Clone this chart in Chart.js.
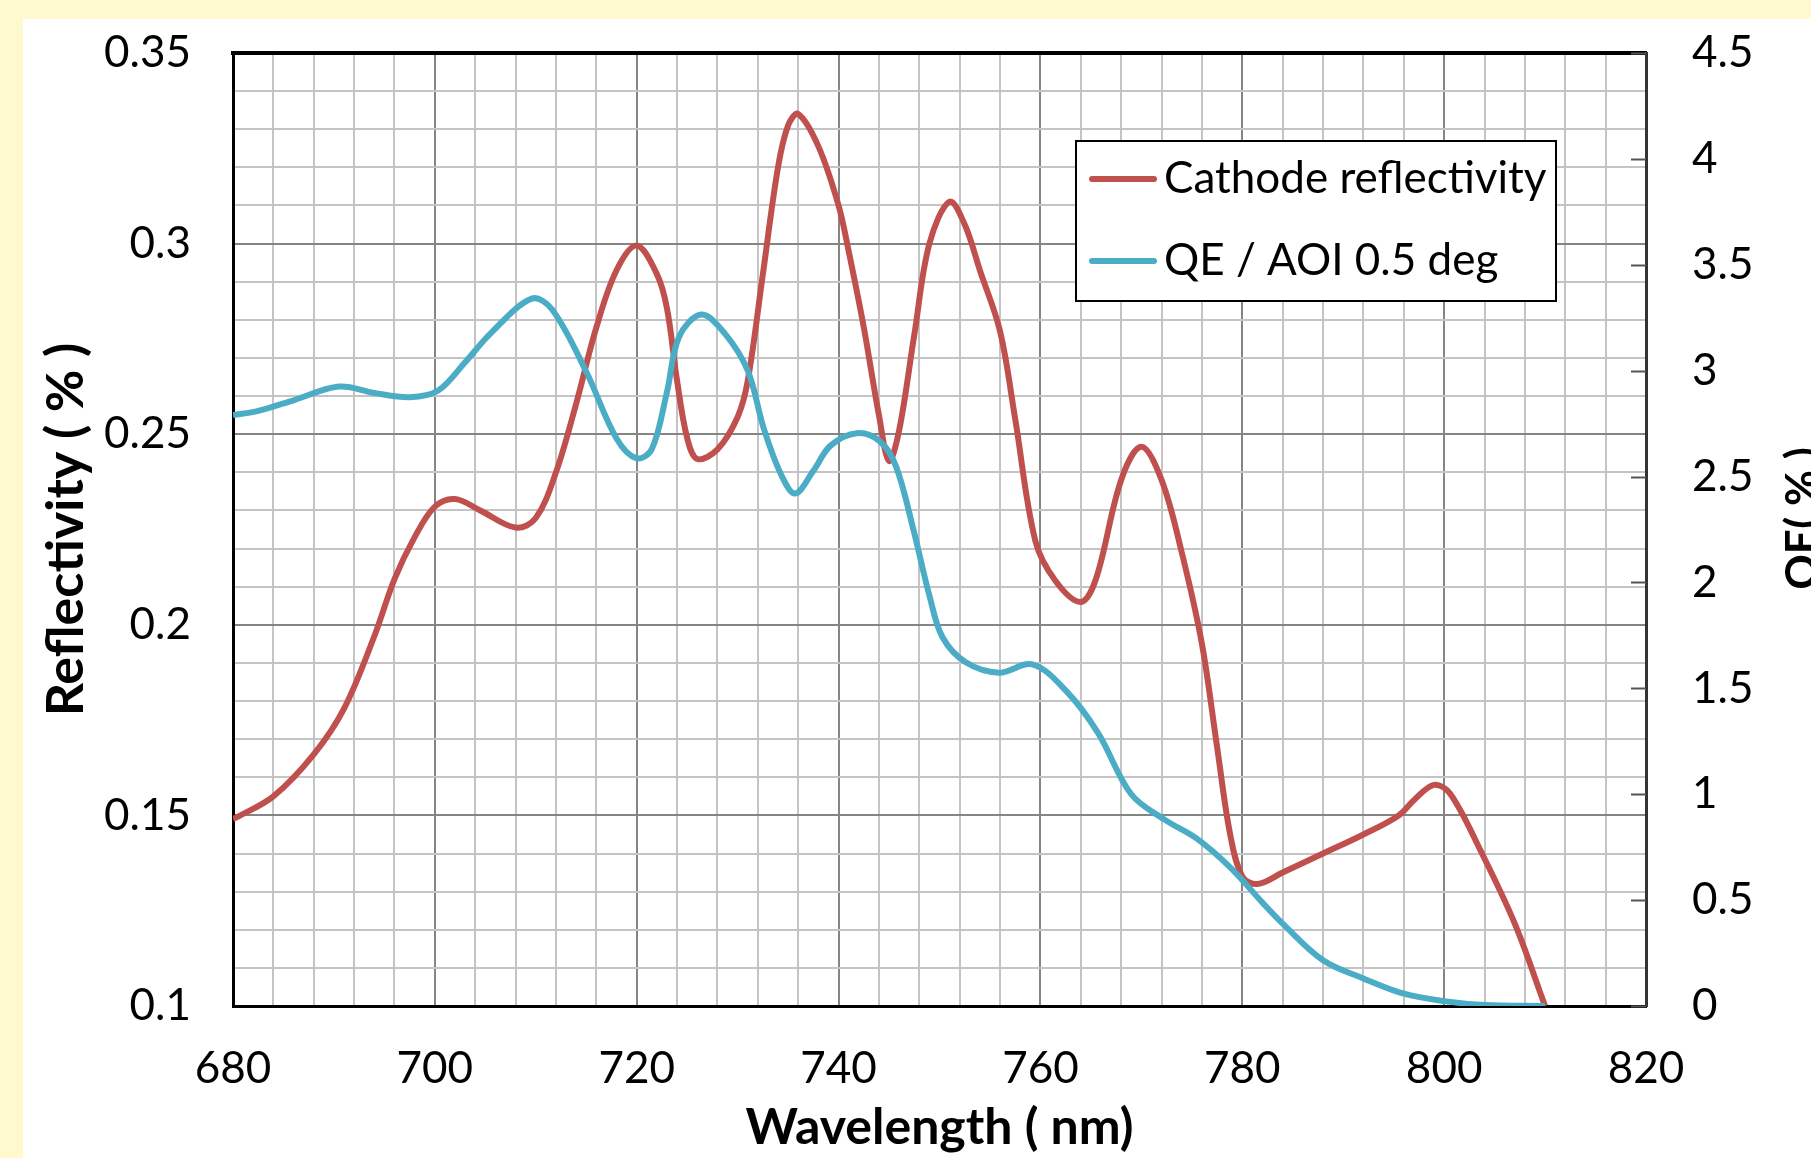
<!DOCTYPE html>
<html>
<head>
<meta charset="utf-8">
<script src="https://cdn.jsdelivr.net/npm/chart.js@4.4.1/dist/chart.umd.min.js"></script>
<style>
  html, body { margin: 0; padding: 0; overflow: hidden; background: #fffacd; width: 1811px; height: 1158px; }
  #wrap { position: absolute; left: 23px; top: 19px; width: 1788px; height: 1139px; background: #fff; }
</style>
</head>
<body>
<div id="wrap"><canvas id="chart"></canvas></div>
<script>
// Cathode reflectivity (left axis)
const reflWavelengths = [680, 684, 688, 691, 694, 696, 698, 700, 702, 704.5, 708, 710, 712, 714, 716, 718, 720, 722, 723, 724, 725, 726, 728, 730, 731, 732.5, 734, 735, 736, 738, 740, 741, 742.5, 744, 745, 746, 747.5, 749, 751, 752.5, 754, 756, 757.5, 759.5, 761.5, 764, 765.5, 768, 770, 772, 774, 776, 777.5, 778.8, 780, 781.5, 784, 788, 792, 795.5, 797, 799, 800.6, 803.6, 807, 810];
const reflValues = [0.149, 0.155, 0.166, 0.178, 0.197, 0.212, 0.223, 0.231, 0.233, 0.230, 0.2255, 0.228, 0.240, 0.258, 0.278, 0.293, 0.2995, 0.292, 0.283, 0.264, 0.249, 0.2435, 0.246, 0.2545, 0.264, 0.292, 0.320, 0.331, 0.334, 0.3255, 0.310, 0.298, 0.278, 0.255, 0.243, 0.251, 0.276, 0.300, 0.311, 0.305, 0.293, 0.277, 0.254, 0.222, 0.2115, 0.206, 0.212, 0.238, 0.2467, 0.238, 0.219, 0.195, 0.168, 0.145, 0.134, 0.132, 0.135, 0.140, 0.145, 0.150, 0.154, 0.158, 0.1557, 0.1408, 0.1216, 0.1];

// QE / AOI 0.5 deg (right axis)
const qeWavelengths = [680, 682.5, 686, 690.5, 694, 697.5, 700.3, 703, 705.6, 709.6, 711.6, 715, 718, 720, 721.5, 723, 724.2, 726.4, 728.7, 731, 732.6, 734.3, 735.7, 737.5, 739.2, 741.8, 744.1, 745.7, 747.4, 749, 750.3, 752.6, 755.9, 759.2, 762.5, 765.7, 769, 772.3, 775.5, 778.9, 782, 784, 788, 792, 796, 800, 804, 810];
const qeValues = [2.79, 2.81, 2.86, 2.925, 2.895, 2.875, 2.905, 3.04, 3.18, 3.34, 3.29, 2.995, 2.68, 2.586, 2.63, 2.90, 3.16, 3.265, 3.177, 3.0, 2.725, 2.51, 2.42, 2.527, 2.646, 2.705, 2.666, 2.547, 2.252, 1.938, 1.741, 1.623, 1.574, 1.613, 1.49, 1.29, 1.0, 0.88, 0.79, 0.65, 0.488, 0.389, 0.216, 0.13, 0.058, 0.023, 0.005, 0];

// tick labels
const xTickLabels = [680, 700, 720, 740, 760, 780, 800, 820];
const leftTickLabels = [0.1, 0.15, 0.2, 0.25, 0.3, 0.35];
const rightTickLabels = [0, 0.5, 1, 1.5, 2, 2.5, 3, 3.5, 4, 4.5];

const seriesNames = ["Cathode reflectivity", "QE / AOI 0.5 deg"];
const rightTitle = "QE( % )";

const RED = "#c0504d";
const BLUE = "#4bacc6";
const MINOR = "#c4c4c4";
const MAJOR = "#858585";
const FONT = "Lato";

const isXMajor = (v) => xTickLabels.includes(Math.round(v));
const isYMajor = (v) => leftTickLabels.some((t) => Math.abs(t - v) < 1e-6);

// fixed axis width, no extra label padding at the ends
const fixWidth = (w) => (s) => {
  s.width = w;
  s.paddingTop = 0;
  s.paddingBottom = 0;
};

// inner tick marks on the right axis
const rightTicksPlugin = {
  id: "rightTicks",
  afterDraw(chart) {
    const s = chart.scales.y2;
    const ctx = chart.ctx;
    const right = chart.chartArea.right;
    ctx.save();
    ctx.strokeStyle = "#555";
    ctx.lineWidth = 2;
    rightTickLabels.forEach((v) => {
      const y = Math.round(s.getPixelForValue(v)) + 0.5;
      ctx.beginPath();
      ctx.moveTo(right - 15, y);
      ctx.lineTo(right, y);
      ctx.stroke();
    });
    ctx.restore();
  },
};

// boxed legend inside the plot
const legendBoxPlugin = {
  id: "legendBox",
  afterDraw(chart) {
    const ctx = chart.ctx;
    const a = chart.chartArea;
    const x = a.left + 843;
    const y = a.top + 88;
    const w = 480;
    const h = 160;
    ctx.save();
    ctx.fillStyle = "#fff";
    ctx.fillRect(x, y, w, h);
    ctx.strokeStyle = "#000";
    ctx.lineWidth = 2;
    ctx.strokeRect(x, y, w, h);
    ctx.font = "44px " + FONT;
    ctx.textBaseline = "middle";
    ctx.fillStyle = "#000";
    chart.data.datasets.forEach((ds, i) => {
      const cy = y + 38 + i * 82;
      ctx.strokeStyle = ds.borderColor;
      ctx.lineWidth = 6;
      ctx.lineCap = "round";
      ctx.beginPath();
      ctx.moveTo(x + 16, cy);
      ctx.lineTo(x + 78, cy);
      ctx.stroke();
      ctx.fillText(ds.label, x + 88, cy);
    });
    ctx.restore();
  },
};

// right axis title, rotated like the left one (cut by the page edge)
const rightTitlePlugin = {
  id: "rightTitle",
  afterDraw(chart) {
    const ctx = chart.ctx;
    const a = chart.chartArea;
    ctx.save();
    ctx.translate(1794, (a.top + a.bottom) / 2 - 11);
    ctx.rotate(-Math.PI / 2);
    ctx.font = "bold 44px " + FONT;
    ctx.fillStyle = "#000";
    ctx.textAlign = "center";
    ctx.textBaseline = "alphabetic";
    ctx.fillText(rightTitle, 0, 0);
    ctx.restore();
  },
};

function createChart(ctx) {
  new Chart(ctx, {
    type: "line",
    data: {
      datasets: [
        {
          label: seriesNames[0],
          data: reflWavelengths.map((x, i) => ({ x: x, y: reflValues[i] })),
          yAxisID: "y",
          borderColor: RED,
          borderWidth: 6,
          pointRadius: 0,
          tension: 0.35,
          fill: false,
          order: 1,
        },
        {
          label: seriesNames[1],
          data: qeWavelengths.map((x, i) => ({ x: x, y: qeValues[i] })),
          yAxisID: "y2",
          borderColor: BLUE,
          borderWidth: 6,
          pointRadius: 0,
          tension: 0.35,
          fill: false,
          order: 0,
        },
      ],
    },
    options: {
      responsive: true,
      maintainAspectRatio: false,
      animation: false,
      layout: { padding: { top: 34, left: 0, right: 0, bottom: 0 } },
      plugins: { legend: { display: false }, tooltip: { enabled: false } },
      scales: {
        x: {
          type: "linear",
          min: 680,
          max: 820,
          afterFit: (s) => { s.height = 152; },
          ticks: {
            stepSize: 4,
            autoSkip: false,
            maxRotation: 0,
            padding: 36,
            color: "#000",
            font: { family: FONT, size: 44 },
            callback: (v) => (isXMajor(v) ? String(Math.round(v)) : ""),
          },
          grid: {
            drawTicks: false,
            lineWidth: 2,
            color: (c) => (c.tick && isXMajor(c.tick.value) ? MAJOR : MINOR),
          },
          border: { color: "#000", width: 3 },
          title: {
            display: true,
            text: "Wavelength ( nm)",
            color: "#000",
            font: { family: FONT, size: 50, weight: "bold" },
            padding: { top: 0, bottom: 0 },
          },
        },
        x2: {
          type: "linear",
          position: "top",
          min: 680,
          max: 820,
          afterFit: (s) => { s.height = 0; },
          ticks: { display: false },
          grid: { display: false, drawTicks: false },
          border: { color: "#000", width: 4 },
        },
        y: {
          min: 0.1,
          max: 0.35,
          afterFit: fixWidth(210),
          ticks: {
            stepSize: 0.01,
            autoSkip: false,
            padding: 42,
            color: "#000",
            font: { family: FONT, size: 44 },
            callback: (v) => (isYMajor(v) ? String(Math.round(v * 100) / 100) : ""),
          },
          grid: {
            drawTicks: false,
            lineWidth: 2,
            color: (c) => (c.tick && isYMajor(c.tick.value) ? MAJOR : MINOR),
          },
          border: { color: "#000", width: 3 },
          title: {
            display: true,
            text: "Reflectivity ( % )",
            color: "#000",
            font: { family: FONT, size: 52, weight: "bold" },
            padding: { top: 12, bottom: 0 },
          },
        },
        y2: {
          position: "right",
          min: 0,
          max: 4.5,
          afterFit: fixWidth(165),
          ticks: {
            stepSize: 0.5,
            padding: 46,
            color: "#000",
            font: { family: FONT, size: 44 },
            callback: (v) => String(v),
          },
          grid: { drawOnChartArea: false, drawTicks: false },
          border: { color: "#333", width: 3 },
        },
      },
    },
    plugins: [rightTicksPlugin, legendBoxPlugin, rightTitlePlugin],
  });
}

createChart(document.getElementById("chart"));
</script>
</body>
</html>
